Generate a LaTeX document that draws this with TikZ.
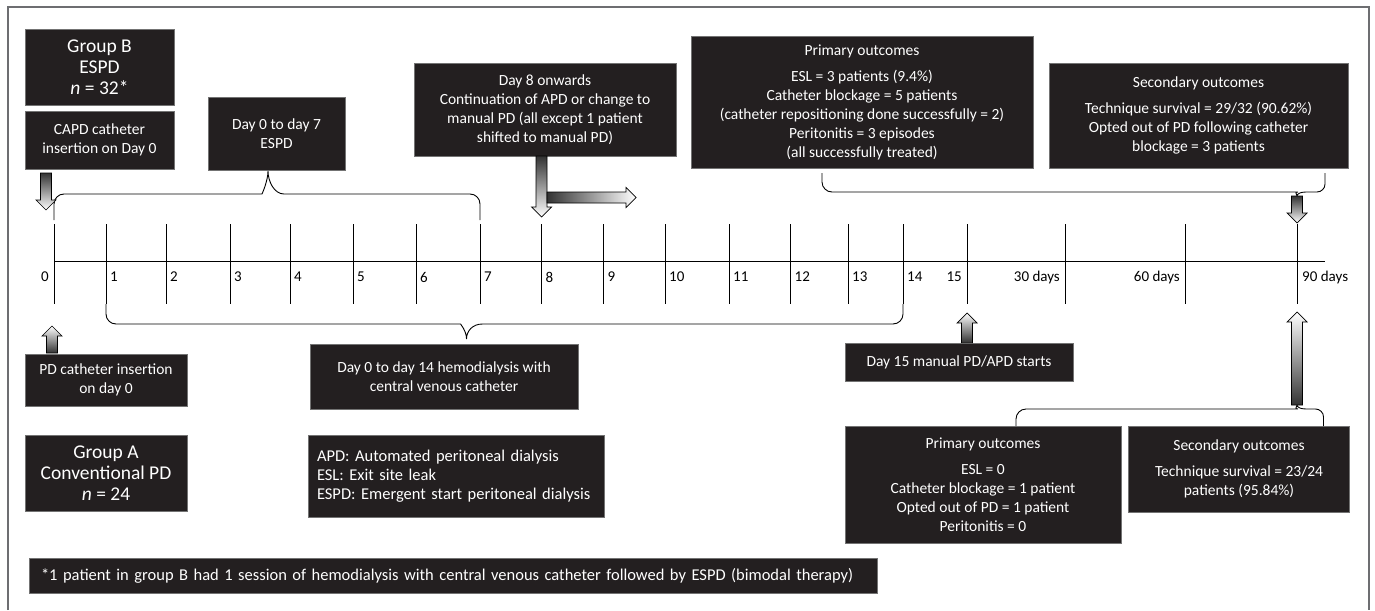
\documentclass[tikz,border=0pt]{standalone}
\usepackage{fontspec}
\setmainfont{Carlito}
\frenchspacing
\usetikzlibrary{positioning,calc}
\definecolor{boxfill}{HTML}{231F20}
\definecolor{framegray}{HTML}{6D6E71}
\definecolor{arrowdark}{HTML}{333333}

\tikzset{
  darkbox/.style={fill=boxfill, draw=black!55, line width=0.6pt, text=white,
    font=\fontsize{15.5}{19}\selectfont, align=center, inner sep=0pt},
  groupbox/.style={darkbox, font=\fontsize{19.5}{21}\selectfont},
  notebox/.style={darkbox, align=left, inner xsep=9pt, font=\fontsize{16.5}{19}\selectfont},
  tick/.style={line width=0.9pt},
  daylabel/.style={font=\fontsize{15}{18}\selectfont, inner sep=0pt},
  bracket/.style={line width=0.9pt, rounded corners=10pt},
  fadedown/.style={top color=arrowdark, bottom color=white},
  fadeup/.style={bottom color=arrowdark, top color=white},
  faderight/.style={left color=arrowdark, right color=white},
}

% shaded block arrow from #2 to #3
\newcommand{\blockarrow}[3][fadedown]{%
  \coordinate (headbase) at ($(#3)!10pt!(#2)$);
  \shadedraw[#1, draw=black, line width=0.7pt]
    ($(#2)!5.5pt!90:(#3)$) -- ($(headbase)!5.5pt!90:(#3)$) -- ($(headbase)!10pt!90:(#3)$) -- (#3)
    -- ($(headbase)!10pt!-90:(#3)$) -- ($(headbase)!5.5pt!-90:(#3)$) -- ($(#2)!5.5pt!-90:(#3)$) -- cycle;
}

\begin{document}
\begin{tikzpicture}[x=1pt, y=-1pt]
    \useasboundingbox (0,0) rectangle (1375,610);
    \fill[white] (0,0) rectangle (1375,610);
    \draw[framegray, line width=1.5pt] (8,610) -- (8,7) -- (1369,7) -- (1369,610);

    % Group B
    \node[groupbox, minimum width=149, minimum height=76] (grpB) at (99.5,67) {Group B\\ESPD\\\textit{n} = 32*};
    \node[darkbox, minimum width=149, minimum height=58] (capd) at (99.5,140) {CAPD catheter\\insertion on Day 0};
    \node[darkbox, minimum width=137, minimum height=73] (espd07) at (276.5,133.5) {Day 0 to day 7\\ESPD};
    \node[darkbox, minimum width=262, minimum height=93] (day8) at (545,109.5)
      {Day 8 onwards\\Continuation of APD or change to\\manual PD (all except 1 patient\\shifted to manual PD)};
    \node[darkbox, minimum width=342, minimum height=132] (primB) at (862,102)
      {Primary outcomes\\[7pt]ESL = 3 patients (9.4\%)\\Catheter blockage = 5 patients\\(catheter repositioning done successfully = 2)\\Peritonitis = 3 episodes\\(all successfully treated)};
    \node[darkbox, minimum width=299, minimum height=105] (secB) at (1198.5,115.5)
      {Secondary outcomes\\[7pt]Technique survival = 29/32 (90.62\%)\\Opted out of PD following catheter\\blockage = 3 patients};

    % Group A
    \node[darkbox, minimum width=162, minimum height=52] (pdcath) at (106,380) {PD catheter insertion\\on day 0};
    \node[groupbox, minimum width=162, minimum height=76] (grpA) at (106,473) {Group A\\Conventional PD\\\textit{n} = 24};
    \node[darkbox, minimum width=268, minimum height=65] (hemo) at (444,376.5)
      {Day 0 to day 14 hemodialysis with\\central venous catheter};
    \node[notebox, text width=278, minimum height=82] (abbr) at (456,476)
      {APD: Automated peritoneal dialysis\\ESL: Exit site leak\\ESPD: Emergent start peritoneal dialysis};
    \node[darkbox, minimum width=228, minimum height=38] (day15) at (959,362) {Day 15 manual PD/APD starts};
    \node[darkbox, minimum width=276, minimum height=117] (primA) at (983,484.5)
      {Primary outcomes\\[7pt]ESL = 0\\Catheter blockage = 1 patient\\Opted out of PD = 1 patient\\Peritonitis = 0};
    \node[darkbox, minimum width=221.5, minimum height=86] (secA) at (1239,469)
      {Secondary outcomes\\[7pt]Technique survival = 23/24\\patients (95.84\%)};

    % Footnote
    \node[notebox, inner xsep=12pt, text width=824, minimum height=35] (foot) at (453,575.5)
      {*1 patient in group B had 1 session of hemodialysis with central venous catheter followed by ESPD (bimodal therapy)};

    % Timeline
    \coordinate (axisL) at (54,261);
    \coordinate (axisR) at (1325,261);
    \draw[tick] (axisL) -- (axisR);
    \foreach \d/\x in {0/54,1/106,2/166,3/230,4/290,5/353,6/416,7/480,8/541.5,9/603.5,10/665,
        11/729,12/790.5,13/848,14/903,15/967,30/1065,60/1185,90/1297} {
      \coordinate (top\d) at (\x,224);
      \coordinate (bot\d) at (\x,304);
      \draw[tick] (top\d) -- (bot\d);
    }
    \foreach \d in {1,...,14} {
      \node[daylabel, anchor=west] (lab\d) at ($(top\d |- 0,277)+(4,0)$) {\d};
    }
    \node[daylabel, anchor=east] (lab0) at ($(top0 |- 0,277)+(-5,0)$) {0};
    \node[daylabel, anchor=east] (lab15) at ($(top15 |- 0,277)+(-5,0)$) {15};
    \node[daylabel, anchor=east] (lab30) at ($(top30 |- 0,277)+(-5,0)$) {30 days};
    \node[daylabel, anchor=east] (lab60) at ($(top60 |- 0,277)+(-5,0)$) {60 days};
    \node[daylabel, anchor=west] (lab90) at ($(top90 |- 0,277)+(5,0)$) {90 days};

    % Braces
    \coordinate (espdL) at (54,220);
    \coordinate (espdR) at (480,220);
    \coordinate (espdtip) at (268,171);
    \draw[bracket] (espdL) |- ($(espdtip)+(-16,23)$) [sharp corners]
      .. controls +(10,0) and +(0,10) .. (espdtip)
      .. controls +(0,10) and +(-10,0) .. ($(espdtip)+(16,23)$) [rounded corners=10pt] -| (espdR);

    \coordinate (hemotip) at (466.5,339);
    \draw[bracket] (bot1) |- ($(hemotip)+(-16,-15)$) [sharp corners]
      .. controls +(10,0) and +(0,-8) .. (hemotip)
      .. controls +(0,-8) and +(-10,0) .. ($(hemotip)+(16,-15)$) [rounded corners=10pt] -| (bot14);

    \coordinate (outBL) at (822,173);
    \coordinate (outBR) at (1325,173);
    \coordinate (outBtip) at (1297,196);
    \draw[bracket] (outBL) |- ($(outBtip)+(-9,-4)$) [sharp corners]
      .. controls +(6,0) and +(0,-2) .. (outBtip)
      .. controls +(0,-2) and +(-6,0) .. ($(outBtip)+(9,-4)$) [rounded corners=8pt] -| (outBR);

    \coordinate (outAL) at (1016,426);
    \coordinate (outAR) at (1323.5,426);
    \coordinate (outAtip) at (1297,405);
    \draw[bracket] (outAL) |- ($(outAtip)+(-9,4)$) [sharp corners]
      .. controls +(6,0) and +(0,2) .. (outAtip)
      .. controls +(0,2) and +(-6,0) .. ($(outAtip)+(9,4)$) [rounded corners=8pt] -| (outAR);

    % Block arrows
    \coordinate (capdA) at (46,173);
    \coordinate (capdB) at (46,210);
    \blockarrow[fadedown]{capdA}{capdB}
    \coordinate (pdA) at (52,353);
    \coordinate (pdB) at (52,326);
    \blockarrow[fadeup]{pdA}{pdB}
    \coordinate (day8A) at (541.5,156);
    \coordinate (day8B) at (541.5,217);
    \blockarrow[fadedown]{day8A}{day8B}
    \coordinate (onA) at (547,197.5);
    \coordinate (onB) at (636,197.5);
    \blockarrow[faderight]{onA}{onB}
    \coordinate (day15B) at (967,313);
    \blockarrow[fadeup]{day15.north -| top15}{day15B}
    \coordinate (outBB) at (1297,223);
    \blockarrow[fadedown]{outBtip}{outBB}
    \coordinate (outAB) at (1297,312);
    \blockarrow[fadeup]{outAtip}{outAB}
\end{tikzpicture}
\end{document}
